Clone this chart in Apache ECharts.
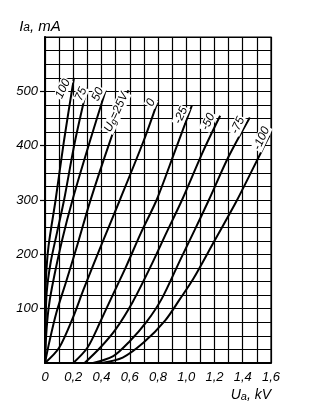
<!DOCTYPE html>
<html><head><meta charset="utf-8">
<script src="https://cdn.jsdelivr.net/npm/echarts@6.0.0/dist/echarts.min.js"></script>
<style>html,body{margin:0;padding:0;background:#fff}#c{width:310px;height:408px}</style>
</head><body><div id="c"></div>
<script>
// ---- data ----
const xTicks = [0, 0.2, 0.4, 0.6, 0.8, 1.0, 1.2, 1.4, 1.6];
const yTicks = [100, 200, 300, 400, 500];
const curveLabels = ['100', '75', '50', 'Ug=25V', '0', '-25', '-50', '-75', '-100'];
// [Ua kV, Ia mA]
const ug100 = [[0,0],[0.002,80],[0.006,150],[0.025,215],[0.075,300],[0.135,410],[0.205,525]];
const ug75  = [[0,0],[0.004,70],[0.012,130],[0.04,185],[0.085,240],[0.135,300],[0.21,405],[0.297,506]];
const ug50  = [[0,0],[0.008,50],[0.025,100],[0.05,140],[0.12,225],[0.2,305],[0.32,410],[0.43,502]];
const ug25  = [[0,0],[0.03,38],[0.08,92],[0.15,150],[0.23,218],[0.32,298],[0.46,408],[0.59,502]];
const ug0   = [[0,0],[0.1,28],[0.2,85],[0.271,134],[0.4,218],[0.53,300],[0.7,410],[0.8,483]];
const ugm25 = [[0.2,0],[0.3,28],[0.39,75],[0.47,120],[0.57,175],[0.68,240],[0.79,300],[0.92,390],[1.04,474]];
const ugm50 = [[0.28,0],[0.39,28],[0.5,62],[0.62,112],[0.743,175],[0.86,240],[0.97,300],[1.12,390],[1.24,455]];
const ugm75 = [[0.34,0],[0.48,12],[0.6,40],[0.72,76],[0.826,118],[0.956,189],[1.06,245],[1.16,300],[1.3,380],[1.45,452]];
const ugm100= [[0.4,0],[0.55,10],[0.7,38],[0.85,78],[0.956,118],[1.05,155],[1.2,225],[1.36,300],[1.53,388],[1.59,419]];
const curves = [ug100, ug75, ug50, ug25, ug0, ugm25, ugm50, ugm75, ugm100];

// ---- layout / style ----
const labelOffsets = [[-11,11],[-6,6],[-8,4],[-12,22],[-7,2],[-11,10],[-12,6],[-12,8],[-8,3]];
const FONT = "'Liberation Sans','DejaVu Sans',sans-serif";
const txt = {fontFamily: FONT, fontStyle: 'italic', color: '#000'};

function curveLabel(s) {
  if (s.indexOf('Ug=') === 0) return '{u|U}{g|g}{u|' + s.slice(2) + '}';
  return '{u|' + s + '}';
}

const series = curves.map((d, i) => ({
  type: 'line',
  data: d,
  smooth: 0.3,
  showSymbol: false,
  symbol: 'none',
  animation: false,
  silent: true,
  lineStyle: {color: '#000', width: 2},
  z: 3,
  markPoint: {
    symbol: 'circle', symbolSize: 0, silent: true, animation: false,
    data: [{
      coord: d[d.length - 1],
      label: {
        show: true,
        formatter: curveLabel(curveLabels[i]),
        position: labelOffsets[i],
        align: 'center', verticalAlign: 'middle',
        rotate: 65,
        backgroundColor: '#fff',
        padding: [0, 1],
        rich: {
          u: Object.assign({fontSize: 12}, txt),
          g: Object.assign({fontSize: 9, padding: [4, 0, 0, 0]}, txt)
        }
      }
    }]
  }
}));

const chart = echarts.init(document.getElementById('c'), null, {renderer: 'canvas'});
chart.setOption({
  animation: false,
  backgroundColor: '#fff',
  grid: {left: 45, right: 39, top: 37, bottom: 45, show: true, borderColor: '#000', borderWidth: 1.2, backgroundColor: 'transparent'},
  xAxis: {
    type: 'value', min: 0, max: 1.6, interval: 0.1,
    axisLine: {show: true, lineStyle: {color: '#000', width: 2}},
    axisTick: {show: false},
    splitLine: {show: true, lineStyle: {color: '#000', width: 1.2}},
    axisLabel: {
      customValues: xTicks, margin: 8, fontSize: 13, fontFamily: FONT, fontStyle: 'italic', color: '#000',
      formatter: v => v === 0 ? '0' : v.toFixed(1).replace('.', ',')
    },
    name: '{i|U}{s|a}{i|, kV}', nameLocation: 'end', nameGap: 0,
    nameTextStyle: {align: 'right', verticalAlign: 'top', padding: [25, 0, 0, 0],
      rich: {i: Object.assign({fontSize: 14}, txt), s: Object.assign({fontSize: 11, padding: [3, 0, 0, 0]}, txt)}}
  },
  yAxis: [{
    type: 'value', min: 0, max: 600, interval: 25,
    axisLine: {show: true, lineStyle: {color: '#000', width: 2}},
    axisTick: {show: false},
    splitLine: {show: true, lineStyle: {color: '#000', width: 1.2}},
    axisLabel: {customValues: yTicks, margin: 7, fontSize: 13, fontFamily: FONT, fontStyle: 'italic', color: '#000'},
    name: '{i|I}{s|a}{i|, mA}', nameLocation: 'end', nameGap: 3,
    nameTextStyle: {align: 'center', verticalAlign: 'bottom', padding: [0, 10, 0, 0],
      rich: {i: Object.assign({fontSize: 15}, txt), s: Object.assign({fontSize: 12, padding: [3, 0, 0, 0]}, txt)}}
  }, {
    type: 'value', min: 0, max: 600, position: 'left', offset: 0,
    axisLine: {show: false},
    axisTick: {show: true, customValues: yTicks, length: 5, lineStyle: {color: '#000', width: 1.2}},
    splitLine: {show: false},
    axisLabel: {show: false}
  }],
  series: series
});
</script></body></html>
